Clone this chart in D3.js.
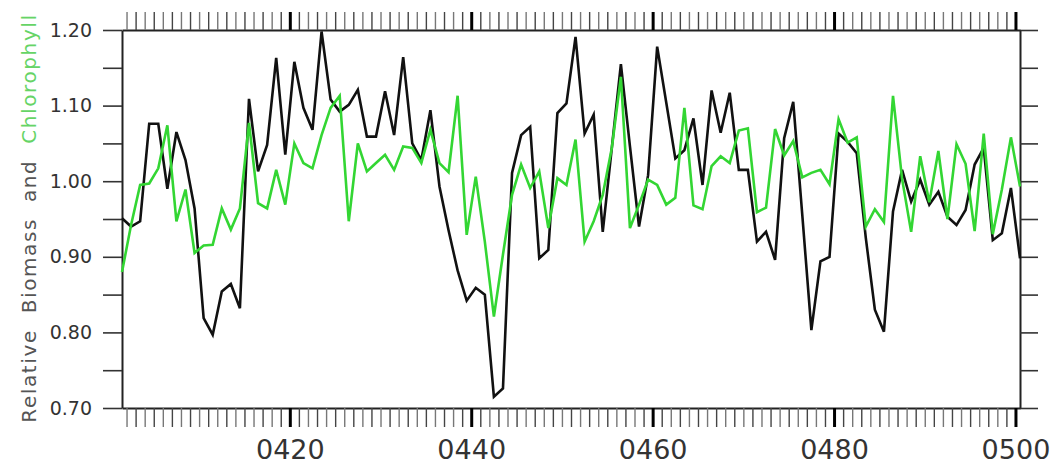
<!DOCTYPE html>
<html>
<head>
<meta charset="utf-8">
<script src="https://cdn.jsdelivr.net/npm/d3@7"></script>
<style>
  body { margin: 0; background: #fff; }
  svg text { font-family: "DejaVu Sans", sans-serif; }
</style>
</head>
<body>
<div id="chart"></div>
<script>
// one value per day, 0401..0500 (drawn at mid-day)
var days = d3.range(401, 501);

var biomass = [
  0.951, 0.940, 0.947, 1.076, 1.076, 0.990, 1.065, 1.028, 0.964, 0.819,
  0.797, 0.854, 0.864, 0.832, 1.109, 1.013, 1.048, 1.163, 1.035, 1.158,
  1.097, 1.068, 1.198, 1.108, 1.092, 1.101, 1.121, 1.059, 1.059, 1.119,
  1.061, 1.164, 1.050, 1.028, 1.094, 0.993, 0.935, 0.882, 0.842, 0.859,
  0.850, 0.715, 0.726, 1.011, 1.061, 1.072, 0.898, 0.909, 1.090, 1.103,
  1.191, 1.063, 1.088, 0.933, 1.044, 1.155, 1.046, 0.940, 1.008, 1.178,
  1.104, 1.030, 1.041, 1.083, 0.995, 1.120, 1.064, 1.117, 1.015, 1.015,
  0.920, 0.933, 0.896, 1.057, 1.105, 0.955, 0.803, 0.894, 0.900, 1.063,
  1.052, 1.037, 0.925, 0.830, 0.801, 0.960, 1.015, 0.973, 1.002, 0.969,
  0.986, 0.953, 0.942, 0.962, 1.022, 1.044, 0.922, 0.931, 0.991, 0.898
];

var chlorophyll = [
  0.880, 0.942, 0.995, 0.997, 1.017, 1.074, 0.947, 0.989, 0.905, 0.915,
  0.916, 0.964, 0.936, 0.964, 1.077, 0.971, 0.964, 1.015, 0.969, 1.050,
  1.024, 1.017, 1.061, 1.097, 1.113, 0.947, 1.050, 1.013, 1.024, 1.035,
  1.015, 1.046, 1.044, 1.024, 1.068, 1.024, 1.012, 1.113, 0.929, 1.006,
  0.920, 0.821, 0.903, 0.982, 1.022, 0.991, 1.013, 0.938, 1.004, 0.995,
  1.055, 0.920, 0.947, 0.982, 1.044, 1.138, 0.938, 0.969, 1.002, 0.995,
  0.969, 0.978, 1.097, 0.968, 0.963, 1.020, 1.033, 1.024, 1.067, 1.070,
  0.959, 0.965, 1.069, 1.034, 1.053, 1.005, 1.011, 1.015, 0.996, 1.082,
  1.051, 1.058, 0.940, 0.963, 0.946, 1.113, 1.003, 0.933, 1.033, 0.972,
  1.040, 0.950, 1.049, 1.023, 0.934, 1.063, 0.930, 0.989, 1.058, 0.993
];

var yTicks = [0.70, 0.75, 0.80, 0.85, 0.90, 0.95, 1.00, 1.05, 1.10, 1.15, 1.20];
var yLabels = ["0.70", "", "0.80", "", "0.90", "", "1.00", "", "1.10", "", "1.20"];
var xMajor = [420, 440, 460, 480, 500];

var width = 1056, height = 467;
var margin = {top: 30, right: 36, bottom: 59, left: 122};
var w = width - margin.left - margin.right;
var h = height - margin.top - margin.bottom;

var svg = d3.select('#chart')
  .append('svg')
    .attr('width', width)
    .attr('height', height);

var g = svg.append('g')
    .attr('transform', 'translate(' + margin.left + ',' + margin.top + ')');

var x = d3.scaleLinear().domain([401.5, 500.5]).range([0, w]);
var y = d3.scaleLinear().domain([0.70, 1.20]).range([h, 0]);

var dayTicks = d3.range(402, 501);
var fmtDay = function(d) { return xMajor.indexOf(d) >= 0 ? d3.format('04d')(d) : ''; };
var fmtY = function(d, i) { return yLabels[i]; };

function styleAxis(sel) {
  sel.select('.domain').attr('stroke', '#222').attr('stroke-width', 2);
  sel.selectAll('.tick line').attr('stroke', '#333').attr('stroke-width', 1.6);
  sel.selectAll('.tick text').attr('fill', '#333');
}

function styleDayTicks(sel) {
  sel.selectAll('.tick line')
    .attr('stroke', function(d) { return d % 20 === 0 ? '#000' : (d % 2 ? '#444' : '#777'); })
    .attr('stroke-width', function(d) { return d % 20 === 0 ? 3 : 1.4; });
}

// left axis with labels
g.append('g')
    .call(d3.axisLeft(y).tickValues(yTicks).tickFormat(fmtY).tickSize(19).tickSizeOuter(0).tickPadding(11))
    .call(styleAxis)
    .selectAll('.tick text')
      .attr('font-size', 19);

// right axis, ticks only
g.append('g')
    .attr('transform', 'translate(' + w + ',0)')
    .call(d3.axisRight(y).tickValues(yTicks).tickFormat('').tickSize(18).tickSizeOuter(0))
    .call(styleAxis);

// bottom axis with day labels
g.append('g')
    .attr('transform', 'translate(0,' + h + ')')
    .call(d3.axisBottom(x).tickValues(dayTicks).tickFormat(fmtDay).tickSize(19).tickSizeOuter(0).tickPadding(13))
    .call(styleAxis)
    .call(styleDayTicks)
    .selectAll('.tick text')
      .attr('font-size', 27);

// top axis, ticks only
g.append('g')
    .call(d3.axisTop(x).tickValues(dayTicks).tickFormat('').tickSize(18).tickSizeOuter(0))
    .call(styleAxis)
    .call(styleDayTicks);

var line = d3.line()
    .x(function(d, i) { return x(days[i] + 0.5); })
    .y(function(d) { return y(d); });

g.append('path')
    .datum(biomass)
    .attr('fill', 'none')
    .attr('stroke', '#111')
    .attr('stroke-width', 2.6)
    .attr('d', line);

g.append('path')
    .datum(chlorophyll)
    .attr('fill', 'none')
    .attr('stroke', '#33d633')
    .attr('stroke-width', 2.6)
    .attr('d', line);

// y title, two colours
var title = svg.append('text')
    .attr('transform', 'translate(36,218) rotate(-90)')
    .attr('text-anchor', 'middle')
    .attr('font-size', 20)
    .attr('letter-spacing', 1.6)
    .style('white-space', 'pre');
title.append('tspan').attr('fill', '#555').text('Relative  Biomass  and  ');
title.append('tspan').attr('fill', '#66d466').text('Chlorophyll');
</script>
</body>
</html>
